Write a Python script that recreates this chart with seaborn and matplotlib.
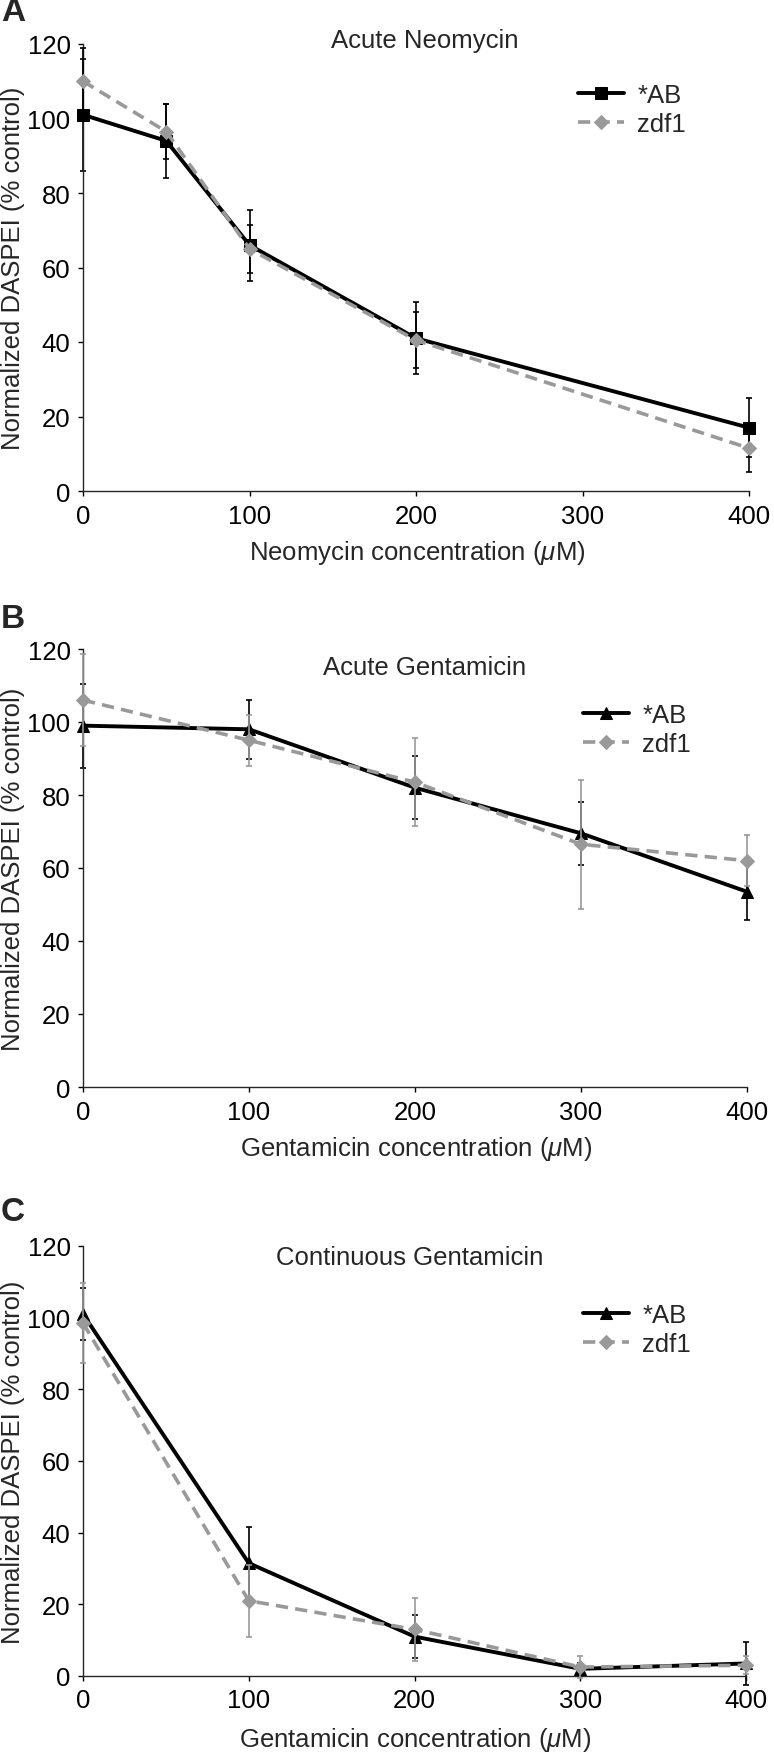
import numpy as np
import pandas as pd
import matplotlib
matplotlib.use("Agg")
import matplotlib.pyplot as plt
import seaborn as sns

# ---------------- data ----------------
conc_A = [0, 50, 100, 200, 400]
ab_A = [101, 94, 66, 41, 17]
ab_A_err = [15, 10, 9.5, 9.7, 8]
zdf_A = [110, 96.5, 65, 40.5, 11.5]
zdf_A_err = [9, 7.5, 6.5, 7.6, 6.5]

conc_B = [0, 100, 200, 300, 400]
ab_B = [99, 98, 82, 69.5, 53.5]
ab_B_err = [11.5, 8, 8.7, 8.7, 7.7]
zdf_B = [106, 95, 83.5, 66.5, 62]
zdf_B_err = [12.5, 7, 12, 17.6, 7]

conc_C = [0, 100, 200, 300, 400]
ab_C = [101, 31.5, 11, 2, 3.5]
ab_C_err = [7.3, 10, 6, 1.5, 6]
zdf_C = [98.5, 21, 13, 2.5, 3]
zdf_C_err = [11.2, 10, 8.8, 3, 2.5]

x_ticks = [0, 100, 200, 300, 400]
y_ticks = [0, 20, 40, 60, 80, 100, 120]
series_names = ["*AB", "zdf1"]
titles = ["Acute Neomycin", "Acute Gentamicin", "Continuous Gentamicin"]
xlabels = [r"Neomycin concentration ($\mu$M)",
           r"Gentamicin concentration ($\mu$M)",
           r"Gentamicin concentration ($\mu$M)"]
ylabel = "Normalized DASPEI (% control)"
letters = ["A", "B", "C"]

# ---------------- style ----------------
sns.set_style("ticks")
plt.rcParams["font.family"] = ["Liberation Sans", "DejaVu Sans"]
plt.rcParams["mathtext.fontset"] = "custom"
plt.rcParams["mathtext.rm"] = "Liberation Sans"
plt.rcParams["mathtext.it"] = "Liberation Sans:italic"
plt.rcParams["axes.linewidth"] = 1.0
FS = 18.5

W, H = 774, 1756
fig = plt.figure(figsize=(W / 100, H / 100), dpi=100)

BLACK = "#000000"
GRAY = "#999999"


def fx(px):
    return px / W


def fy(py):
    return 1 - py / H


panels = [
    dict(x=conc_A, ab=ab_A, abe=ab_A_err, zd=zdf_A, zde=zdf_A_err,
         top=45, bottom=492, right=749, ab_marker="s", ab_ms=8, zd_ecolor=BLACK,
         title_xy=(425, 48), letter_y=21, leg_xy=(578, 84), xlab_y=-0.1365),
    dict(x=conc_B, ab=ab_B, abe=ab_B_err, zd=zdf_B, zde=zdf_B_err,
         top=650, bottom=1088, right=747, ab_marker="^", ab_ms=9, zd_ecolor=GRAY,
         title_xy=(425, 675), letter_y=628, leg_xy=(583, 704), xlab_y=-0.139),
    dict(x=conc_C, ab=ab_C, abe=ab_C_err, zd=zdf_C, zde=zdf_C_err,
         top=1247, bottom=1677, right=746, ab_marker="^", ab_ms=9, zd_ecolor=GRAY,
         title_xy=(410, 1265), letter_y=1221, leg_xy=(583, 1304), xlab_y=-0.147),
]

LEFT = 83
for i, p in enumerate(panels):
    ax = fig.add_axes([fx(LEFT), fy(p["bottom"]), (p["right"] - LEFT) / W,
                       (p["bottom"] - p["top"]) / H])
    df_ab = pd.DataFrame({"conc": p["x"], "val": p["ab"]})
    df_zd = pd.DataFrame({"conc": p["x"], "val": p["zd"]})

    ax.errorbar(p["x"], p["ab"], yerr=p["abe"], fmt="none", ecolor=BLACK,
                elinewidth=1.2, capsize=2.3, capthick=1.2, zorder=2, clip_on=False)
    sns.lineplot(data=df_ab, x="conc", y="val", ax=ax, color=BLACK,
                 linewidth=2.8, marker=p["ab_marker"], markersize=p["ab_ms"],
                 markeredgecolor=BLACK, markerfacecolor=BLACK,
                 label=series_names[0], zorder=3, clip_on=False, errorbar=None)
    ax.errorbar(p["x"], p["zd"], yerr=p["zde"], fmt="none", ecolor=p["zd_ecolor"],
                elinewidth=1.2, capsize=2.3, capthick=1.2, zorder=4, clip_on=False)
    sns.lineplot(data=df_zd, x="conc", y="val", ax=ax, color=GRAY,
                 linewidth=2.6, linestyle=(0, (3.4, 2.0)), marker="D",
                 markersize=7, markeredgecolor=GRAY, markerfacecolor=GRAY,
                 label=series_names[1], zorder=5, clip_on=False, errorbar=None)

    ax.set_xlim(0, 400)
    ax.set_ylim(0, 120)
    ax.set_xticks(x_ticks)
    ax.set_yticks(y_ticks)
    ax.tick_params(axis="both", labelsize=FS, length=3.5, width=1.0,
                   direction="out", pad=5.5, colors="black")
    sns.despine(ax=ax)

    ax.set_xlabel(xlabels[i], fontsize=FS)
    ax.xaxis.label.set(ha="center", va="center")
    ax.xaxis.set_label_coords(0.5015, p["xlab_y"])
    ax.set_ylabel(ylabel, fontsize=FS)
    ax.yaxis.label.set(ha="center", va="center", rotation_mode="anchor")
    ax.yaxis.set_label_coords((13 - LEFT) / (p["right"] - LEFT), 0.5)

    leg = ax.legend(loc="upper left", bbox_to_anchor=(fx(p["leg_xy"][0]), fy(p["leg_xy"][1])),
                    bbox_transform=fig.transFigure, frameon=False, fontsize=FS,
                    handlelength=1.8, handletextpad=0.5, labelspacing=0.2,
                    borderpad=0, borderaxespad=0)

    fig.text(fx(p["title_xy"][0]), fy(p["title_xy"][1]), titles[i], fontsize=FS,
             ha="center", va="baseline")
    fig.text(fx(1), fy(p["letter_y"]), letters[i], fontsize=24, fontweight="bold",
             ha="left", va="baseline")

fig.savefig("out.png", dpi=100)
